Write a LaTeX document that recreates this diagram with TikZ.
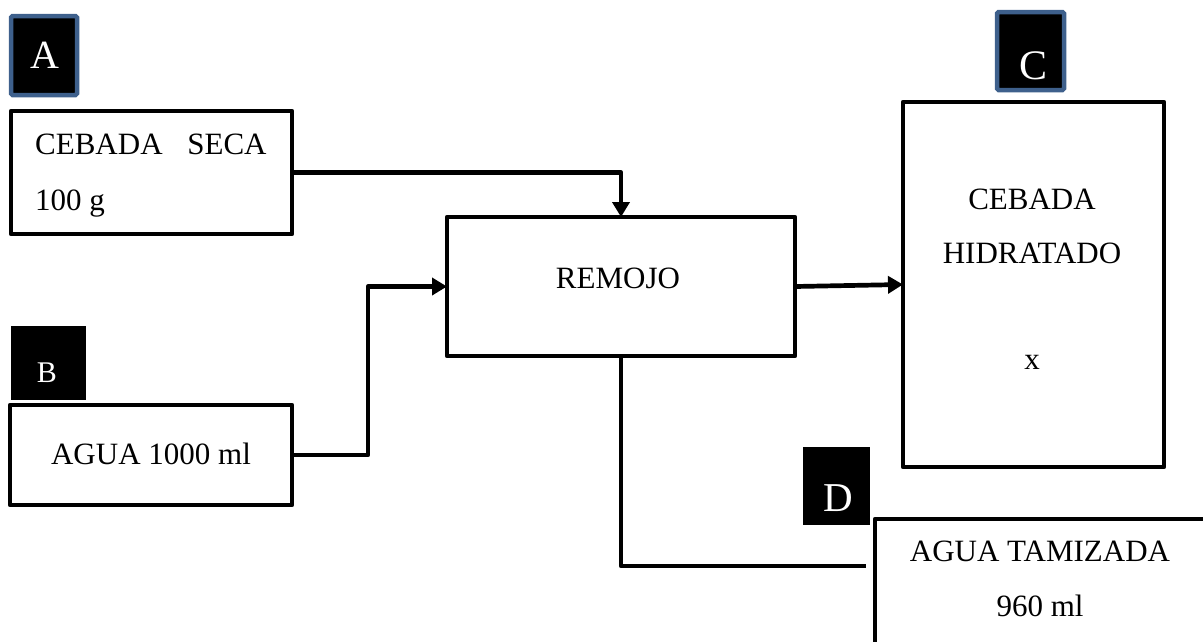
\documentclass[tikz,border=0pt]{standalone}
\usepackage{fontspec}
\setmainfont{Liberation Serif}
\usetikzlibrary{arrows.meta}
\definecolor{lblblue}{RGB}{62,96,140}
\begin{document}
\begin{tikzpicture}[x=1pt,y=-1pt,
  box/.style={draw=black,line width=4.7pt,fill=white,inner sep=0pt,outer sep=0pt,anchor=north west,line join=round},
  lbl/.style={fill=black,inner sep=0pt,outer sep=0pt,anchor=north west},
  lblb/.style={lbl,draw=lblblue,line width=4.5pt,rounded corners=1.5pt},
  txt/.style={inner sep=0pt,font=\fontsize{31}{37}\selectfont,anchor=base},
  ltxt/.style={inner sep=0pt,text=white,anchor=base},
  conn/.style={line width=4.7pt,line join=round},
  arr/.style={conn,-{Triangle[length=15pt,width=17pt]}}]
\useasboundingbox (0,0) rectangle (1203,641);
\clip (0,0) rectangle (1203,641);
% boxes
\node[box,minimum width=281pt,minimum height=123pt] (boxA) at (11,111) {};
\node[box,minimum width=282pt,minimum height=100pt] (boxB) at (10,405) {};
\node[box,minimum width=348pt,minimum height=139pt] (remojo) at (447,217) {};
\node[box,minimum width=261pt,minimum height=365pt] (boxC) at (903,102) {};
\node[box,minimum width=370pt,minimum height=200pt] (boxD) at (875,519) {};
% labels
\node[lblb,minimum width=66pt,minimum height=79pt] (labA) at (11,16) {};
\node[lblb,minimum width=67pt,minimum height=78pt] (labC) at (997,12) {};
\node[lbl,minimum width=75pt,minimum height=74pt] (labB) at (11,326) {};
\node[lbl,minimum width=67pt,minimum height=78pt] (labD) at (803,447) {};
\node[ltxt,font=\fontsize{40}{44}\selectfont] (letA) at (45,68) {A};
\node[ltxt,font=\fontsize{42}{46}\selectfont] (letC) at (1033,79) {C};
\node[ltxt,font=\fontsize{30}{34}\selectfont] (letB) at (47,382) {B};
\node[ltxt,font=\fontsize{41}{45}\selectfont] (letD) at (838,511) {D};
% texts
\node[txt,anchor=base west] (tA1) at (35,154) {CEBADA\hspace{17pt} SECA};
\node[txt,anchor=base west] (tA2) at (35,210) {100 g};
\node[txt] (tB) at (151,464) {AGUA 1000 ml};
\node[txt] (tR) at (618,288) {REMOJO};
\node[txt] (tC1) at (1032,209) {CEBADA};
\node[txt] (tC2) at (1032,263) {HIDRATADO};
\node[txt] (tC3) at (1032,369) {x};
\node[txt] (tD1) at (1040,561) {AGUA TAMIZADA};
\node[txt] (tD2) at (1040,616) {960 ml};
% connectors
\coordinate (jD) at (866,566);
\draw[arr] (boxA.east) -| (remojo.north);
\draw[arr] (boxB.east) -- ++(76,0) |- (remojo.west);
\draw[arr] (remojo.east) -- (boxC.west);
\draw[conn] (remojo.south) |- (jD);
\end{tikzpicture}
\end{document}
